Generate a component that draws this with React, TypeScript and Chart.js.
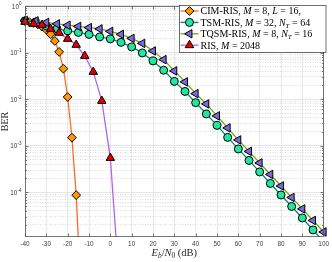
import { useEffect, useRef } from "react";
import { Chart, registerables } from "chart.js";
import { drawPoint } from "chart.js/helpers";
Chart.register(...registerables);

// ---- data ----
const snrCIM = [-40, -38, -36, -34, -32, -30, -28, -26, -24, -22, -20, -18, -16, -14];
const berCIM = [0.47, 0.45, 0.43, 0.4, 0.36, 0.31, 0.247, 0.177, 0.103, 0.045, 0.0111, 0.00149, 8.7e-5, 1.1e-6];

const snrTSM = [-40, -35, -30, -25, -20, -15, -10, -5, 0, 5, 10, 15, 20, 25, 30, 35, 40, 45, 50, 55, 60, 65, 70, 75, 80, 85, 90, 95, 100];
const berTSM = [0.48, 0.454, 0.372, 0.321, 0.291, 0.27, 0.245, 0.216, 0.196, 0.165, 0.132, 0.098, 0.066, 0.0417, 0.024, 0.0146, 0.0084, 0.00481, 0.00273, 0.00151, 8.54e-4, 4.84e-4, 2.74e-4, 1.55e-4, 8.79e-5, 4.98e-5, 2.82e-5, 1.56e-5, 8.8e-6];

const snrTQSM = [-40, -35, -30, -25, -20, -15, -10, -5, 0, 5, 10, 15, 20, 25, 30, 35, 40, 45, 50, 55, 60, 65, 70, 75, 80, 85, 90, 95, 100];
const berTQSM = [0.49, 0.477, 0.443, 0.411, 0.385, 0.363, 0.342, 0.321, 0.284, 0.245, 0.201, 0.157, 0.108, 0.0704, 0.0403, 0.0234, 0.0131, 0.00789, 0.00436, 0.00241, 0.00133, 7.55e-4, 4.28e-4, 2.42e-4, 1.37e-4, 7.78e-5, 4.41e-5, 2.49e-5, 1.41e-5];

const snrRIS = [-40, -36, -32, -28, -24, -20, -16, -12, -8, -4, 0, 4];
const berRIS = [0.454, 0.411, 0.391, 0.321, 0.264, 0.196, 0.146, 0.0845, 0.0384, 0.00915, 5.47e-4, 1.5e-6];

const legendLabels = [
  "CIM-RIS, $M=8$, $L=16$,",
  "TSM-RIS, $M=32$, $N_T=64$",
  "TQSM-RIS, $M=8$, $N_T=16$",
  "RIS, $M=2048$",
];
const xTitle = "$E_b/N_0$ (dB)";
const yTitle = "BER";
const yLabelExps = [0, -1, -2, -3, -4];

const X_MIN = -40;
const X_MAX = 100;
const Y_MIN = 1.1e-5;
const Y_MAX = 1;

// ---- styles ----
const styles = [
  { line: "#FF6A2B", fill: "#FF9900", pointStyle: "rectRot", rotation: 0, radius: 4.4 },
  { line: "#008A6E", fill: "#22E6A0", pointStyle: "circle", rotation: 0, radius: 4 },
  { line: "#6EAA14", fill: "#7B68DC", pointStyle: "triangle", rotation: -90, radius: 4.9 },
  { line: "#B464E6", fill: "#E60000", pointStyle: "triangle", rotation: 0, radius: 4.9 },
];

const SERIF = '"Liberation Serif", "DejaVu Serif", serif';
const SANS = '"Liberation Sans", "DejaVu Sans", sans-serif';

type Seg = { t: string; it: boolean; sub: boolean };
function parseRich(s: string): Seg[] {
  const out: Seg[] = [];
  let math = false;
  for (let i = 0; i < s.length; i++) {
    const c = s[i];
    if (c === "$") { math = !math; continue; }
    if (!math) { out.push({ t: c, it: false, sub: false }); continue; }
    if (c === "_") {
      const n = s[++i];
      out.push({ t: n, it: /[A-Za-z]/.test(n), sub: true });
      continue;
    }
    if (c === "=") { out.push({ t: " = ", it: false, sub: false }); continue; }
    out.push({ t: c, it: /[A-Za-z]/.test(c), sub: false });
  }
  return out;
}

function drawRich(ctx: CanvasRenderingContext2D, s: string, x: number, y: number, size: number, align: "left" | "center") {
  const segs = parseRich(s);
  const fontOf = (sg: Seg) => `${sg.it ? "italic " : ""}${sg.sub ? size * 0.7 : size}px ${SERIF}`;
  let total = 0;
  const widths = segs.map((sg) => {
    ctx.font = fontOf(sg);
    const w = ctx.measureText(sg.t).width;
    total += w;
    return w;
  });
  let cx = align === "center" ? x - total / 2 : x;
  ctx.textAlign = "left";
  ctx.textBaseline = "alphabetic";
  segs.forEach((sg, i) => {
    ctx.font = fontOf(sg);
    ctx.fillText(sg.t, cx, sg.sub ? y + size * 0.22 : y);
    cx += widths[i];
  });
}

const isMajor = (v: number) => Math.abs(Math.log10(v) - Math.round(Math.log10(v))) < 1e-6;

const overlay = {
  id: "overlay",
  afterDraw(chart: any) {
    const { ctx, chartArea: a, scales } = chart;
    const ys = scales.y;
    const xs = scales.x;
    ctx.save();
    const L = Math.round(a.left) + 0.5;
    const R = Math.round(a.right) - 0.5;
    const T = Math.round(a.top) + 0.5;
    const B = Math.round(a.bottom) - 0.5;
    ctx.strokeStyle = "#555555";
    ctx.lineWidth = 0.8;
    ctx.strokeRect(L, T, R - L, B - T);
    // inner ticks
    ctx.beginPath();
    for (let v = X_MIN; v <= X_MAX; v += 10) {
      const px = Math.round(xs.getPixelForValue(v)) + 0.5;
      ctx.moveTo(px, B); ctx.lineTo(px, B - 3);
      ctx.moveTo(px, T); ctx.lineTo(px, T + 3);
    }
    for (const t of ys.ticks) {
      const py = Math.round(ys.getPixelForValue(t.value)) + 0.5;
      const len = isMajor(t.value) ? 3 : 1.6;
      ctx.moveTo(L, py); ctx.lineTo(L + len, py);
      ctx.moveTo(R, py); ctx.lineTo(R - len, py);
    }
    ctx.stroke();

    // y labels
    ctx.fillStyle = "#404040";
    for (const e of yLabelExps) {
      const py = ys.getPixelForValue(Math.pow(10, e));
      const exp = e === 0 ? "0" : "-" + Math.abs(e);
      ctx.font = `4.6px ${SANS}`;
      const we = ctx.measureText(exp).width;
      ctx.font = `6.4px ${SANS}`;
      const wb = ctx.measureText("10").width;
      const right = a.left - 3.5;
      ctx.textBaseline = "alphabetic";
      ctx.textAlign = "left";
      ctx.fillText("10", right - we - wb, py + 2.6);
      ctx.font = `4.6px ${SANS}`;
      ctx.fillText(exp, right - we, py - 0.6);
    }

    // axis titles
    ctx.fillStyle = "#262626";
    drawRich(ctx, xTitle, (a.left + a.right) / 2, 255.5, 10.5, "center");
    ctx.save();
    ctx.translate(8, (a.top + a.bottom) / 2);
    ctx.rotate(-Math.PI / 2);
    ctx.font = `10px ${SERIF}`;
    ctx.textAlign = "center";
    ctx.textBaseline = "alphabetic";
    ctx.fillText(yTitle, 0, 0);
    ctx.restore();

    // legend
    const bx = 179, by = 5, bw = 146.5, bh = 47;
    ctx.fillStyle = "#ffffff";
    ctx.fillRect(bx, by, bw, bh);
    ctx.strokeStyle = "#333333";
    ctx.lineWidth = 0.7;
    ctx.strokeRect(bx + 0.5, by + 0.5, bw, bh);
    legendLabels.forEach((lab, i) => {
      const st = styles[i];
      const cy = by + 6 + i * 11.4;
      ctx.strokeStyle = st.line;
      ctx.lineWidth = 1.3;
      ctx.beginPath();
      ctx.moveTo(180.5, cy);
      ctx.lineTo(198.5, cy);
      ctx.stroke();
      ctx.fillStyle = st.fill;
      ctx.strokeStyle = "#000000";
      ctx.lineWidth = 1;
      drawPoint(ctx, { pointStyle: st.pointStyle, rotation: st.rotation, radius: st.radius, borderWidth: 1 } as any, 189.5, cy);
      ctx.fillStyle = "#000000";
      drawRich(ctx, lab, 200.5, cy + 3.4, 10, "left");
    });
    ctx.restore();
  },
};

function makeDataset(label: string, xs: number[], ys: number[], idx: number, order: number) {
  const st = styles[idx];
  return {
    label,
    data: xs.map((x, i) => ({ x, y: ys[i] })),
    borderColor: st.line,
    backgroundColor: st.fill,
    borderWidth: 1.3,
    pointStyle: st.pointStyle,
    pointRotation: st.rotation,
    pointRadius: (c: any) => (c.raw && c.raw.y >= Y_MIN ? st.radius : 0),
    pointBorderColor: "#000000",
    pointBackgroundColor: st.fill,
    pointBorderWidth: 1,
    tension: 0,
    order,
    clip: { left: 8, top: 8, right: 8, bottom: 0 },
  };
}

export default function App() {
  const ref = useRef<HTMLCanvasElement | null>(null);
  useEffect(() => {
    document.body.style.margin = "0";
    if (!ref.current) return;
    const chart = new Chart(ref.current, {
      type: "line",
      data: {
        datasets: [
          makeDataset("CIM-RIS", snrCIM, berCIM, 0, 4),
          makeDataset("TSM-RIS", snrTSM, berTSM, 1, 3),
          makeDataset("TQSM-RIS", snrTQSM, berTQSM, 2, 2),
          makeDataset("RIS", snrRIS, berRIS, 3, 1),
        ] as any,
      },
      options: {
        animation: false,
        responsive: false,
        devicePixelRatio: 1,
        layout: { padding: { left: 0, top: 4, right: 5, bottom: 0 } },
        plugins: { legend: { display: false }, tooltip: { enabled: false }, title: { display: false } },
        scales: {
          x: {
            type: "linear",
            min: X_MIN,
            max: X_MAX,
            ticks: { stepSize: 10, font: { size: 6.4, family: SANS }, color: "#404040", padding: 3, maxRotation: 0 },
            grid: { color: "#e2e2e2", lineWidth: 0.8, drawTicks: false },
            border: { display: false },
            afterFit: (s: any) => { s.height = 25; },
          },
          y: {
            type: "logarithmic",
            min: Y_MIN,
            max: Y_MAX,
            ticks: { display: false, autoSkip: false },
            afterBuildTicks: (scale: any) => {
              const t: any[] = [];
              for (let e = -5; e < 0; e++) {
                for (let m = 1; m < 10; m++) {
                  const v = m * Math.pow(10, e);
                  if (v >= Y_MIN * 0.999) t.push({ value: v, major: m === 1 });
                }
              }
              t.push({ value: 1, major: true });
              scale.ticks = t;
            },
            grid: {
              color: (c: any) => (c.tick && isMajor(c.tick.value) ? "#dedede" : "#d0d0d0"),
              lineWidth: 0.8,
              drawTicks: false,
            },
            border: {
              display: false,
              dash: (c: any) => (c.tick && isMajor(c.tick.value) ? [] : [1, 1.5]),
            },
            afterFit: (s: any) => { s.width = 25; },
          },
        },
      },
      plugins: [overlay],
    } as any);
    return () => chart.destroy();
  }, []);
  return <canvas ref={ref} width={332} height={262} style={{ display: "block", width: 332, height: 262 }} />;
}
